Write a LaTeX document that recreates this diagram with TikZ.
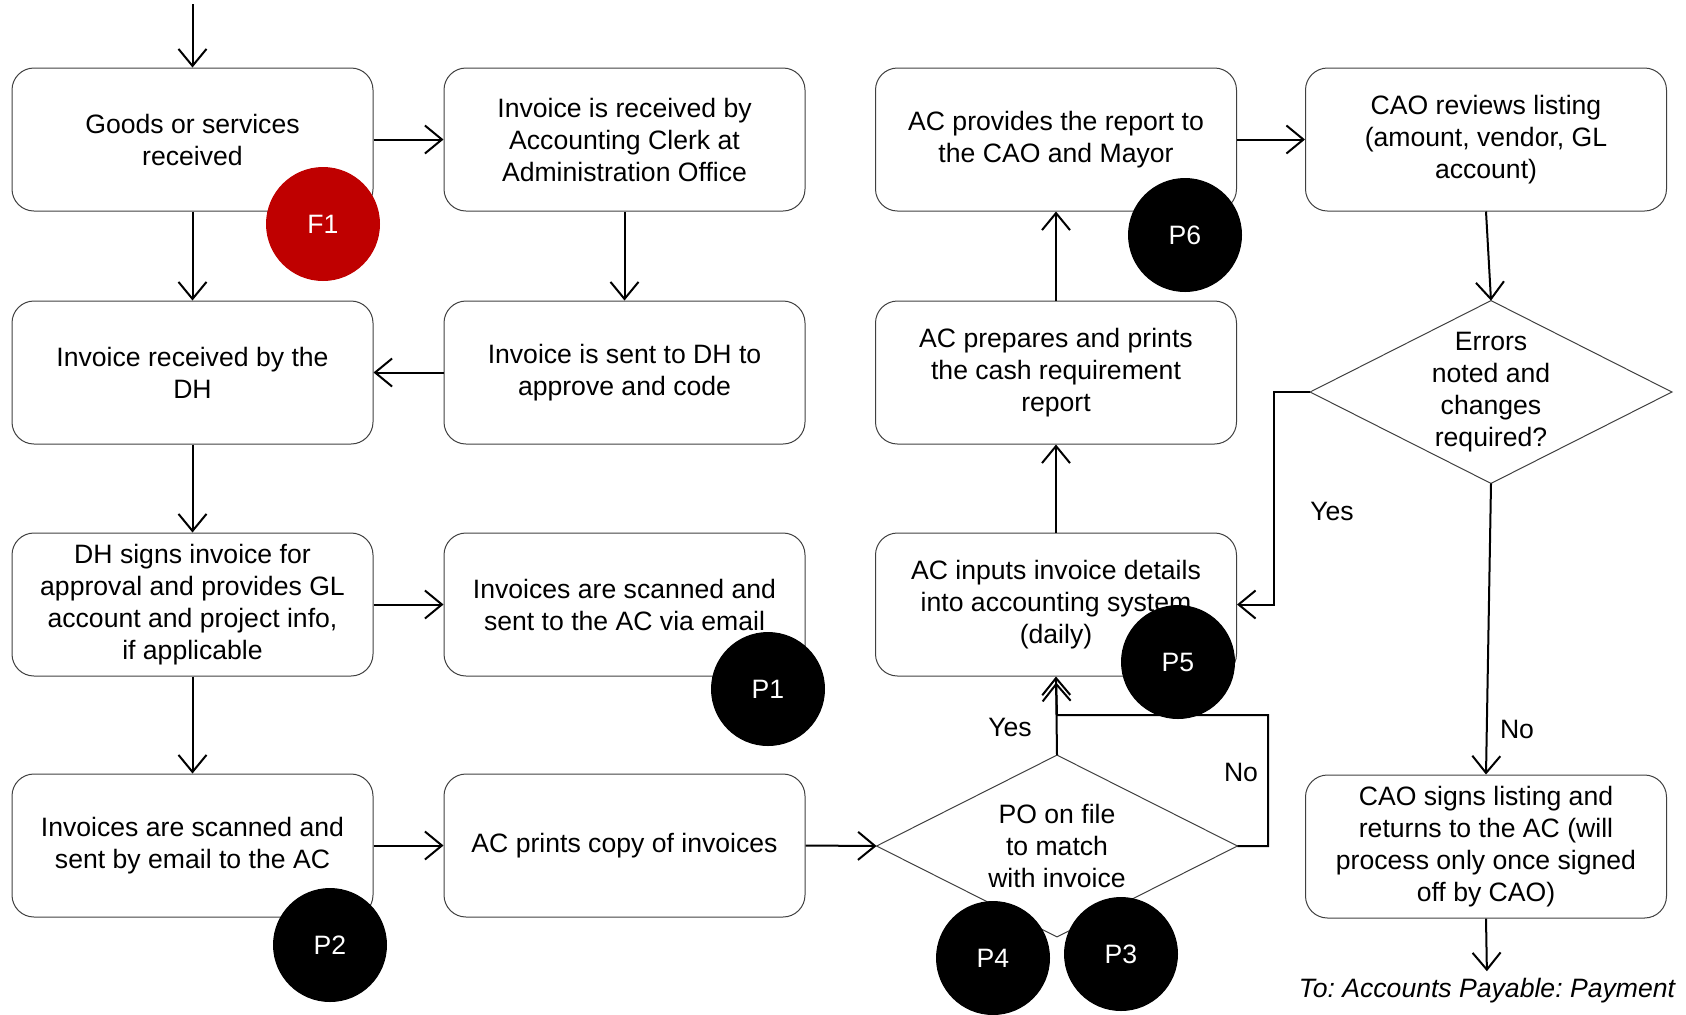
\documentclass[tikz,border=0pt]{standalone}
\usepackage{fontspec}
\setmainfont{Liberation Sans}
\usetikzlibrary{arrows.meta}
\frenchspacing
\begin{document}
\begin{tikzpicture}[x=0.5pt,y=-0.5pt,
  every node/.style={font=\fontsize{13.3}{16}\selectfont, align=center, inner sep=0pt},
  stepbox/.style={draw=black!75, line width=0.5pt, rounded corners=11pt,
    minimum width=180.5pt, minimum height=71.5pt},
  flow/.style={line width=1pt, -{Straight Barb[length=8.5pt,width=14pt]}},
  decision/.style={draw=none, minimum width=180pt, minimum height=90.5pt},
  rhombus/.style={draw=black!75, line width=0.5pt},
  badge/.style={circle, fill=black, text=white, minimum size=57pt},
  fbadge/.style={badge, fill=red!75!black}]

\useasboundingbox (0,0) rectangle (1686,1014);

% process steps
\node[stepbox] (goods)   at (192.5,139.5) {Goods or services\\received};
\node[stepbox] (recv)    at (624.5,139.5) {Invoice is received by\\Accounting Clerk at\\Administration Office};
\node[stepbox] (dhrecv)  at (192.5,372.5) {Invoice received by the\\DH};
\node[stepbox] (sentdh)  at (624.5,372.5) {Invoice is sent to DH to\\approve and code};
\node[stepbox] (dhsign)  at (192.5,604.5) {DH signs invoice for\\approval and provides GL\\account and project info,\\if applicable};
\node[stepbox] (scanac)  at (624.5,604.5) {Invoices are scanned and\\sent to the AC via email};
\node[stepbox] (scanem)  at (192.5,845.5) {Invoices are scanned and\\sent by email to the AC};
\node[stepbox] (prints)  at (624.5,845.5) {AC prints copy of invoices};
\node[stepbox] (inputs)  at (1056,604.5) {AC inputs invoice details\\into accounting system\\(daily)};
\node[stepbox] (prepare) at (1056,372.5) {AC prepares and prints\\the cash requirement\\report};
\node[stepbox] (provide) at (1056,139.5) {AC provides the report to\\the CAO and Mayor};
\node[stepbox] (review)  at (1486,139.5) {CAO reviews listing\\(amount, vendor, GL\\account)};
\node[stepbox] (caosign) at (1486,846.5) {CAO signs listing and\\returns to the AC (will\\process only once signed\\off by CAO)};

% decisions
\node[decision] (po) at (1057,846) {PO on file\\to match\\with invoice};
\draw[rhombus] (po.west) -- (po.north) -- (po.east) -- (po.south) -- cycle;
\node[decision, minimum width=180.5pt, minimum height=91pt] (err) at (1491,392) {Errors\\noted and\\changes\\required?};
\draw[rhombus] (err.west) -- (err.north) -- (err.east) -- (err.south) -- cycle;

% final destination
\node[font=\fontsize{13.3}{16}\selectfont\itshape] (pay) at (1487,991) {To: Accounts Payable: Payment};

% connectors
\coordinate (start) at (192.5,4);
\draw[flow] (start) -- (goods.north);
\draw[flow] (goods.south) -- (dhrecv.north);
\draw[flow] (goods.east) -- (recv.west);
\draw[flow] (recv.south) -- (sentdh.north);
\draw[flow] (sentdh.west) -- (dhrecv.east);
\draw[flow] (dhrecv.south) -- (dhsign.north);
\draw[flow] (dhsign.east) -- (scanac.west);
\draw[flow] (dhsign.south) -- (scanem.north);
\draw[flow] (scanem.east) -- (prints.west);
\draw[flow] (prints.east) -- (po.west);
\draw[flow] (po.north) -- (inputs.south);
\coordinate (loopr) at (1268,846);
\coordinate (loopt) at (1268,715);
\coordinate (loopl) at (1057,715);
\draw[flow, shorten >=3pt] (po.east) -- (loopr) -- (loopt) -- (loopl) -- (inputs.south);
\draw[flow] (inputs.north) -- (prepare.south);
\draw[flow] (prepare.north) -- (provide.south);
\draw[flow] (provide.east) -- (review.west);
\draw[flow] (review.south) -- (err.north);
\coordinate (yesl) at (1274,392);
\draw[flow] (err.west) -- (yesl) |- (inputs.east);
\draw[flow] (err.south) -- (caosign.north);
\draw[flow, shorten >=3.5pt] (caosign.south) -- (pay.north);

% branch labels
\node (yes1) at (1010,727) {Yes};
\node (no1)  at (1241,772) {No};
\node (yes2) at (1332,511) {Yes};
\node (no2)  at (1517,729) {No};

% control markers
\node[fbadge] (f1) at (323,224) {F1};
\node[badge] (p1) at (768,689) {P1};
\node[badge] (p2) at (330,945) {P2};
\node[badge] (p3) at (1121,954) {P3};
\node[badge] (p4) at (993,958) {P4};
\node[badge] (p5) at (1178,662) {P5};
\node[badge] (p6) at (1185,235) {P6};
\end{tikzpicture}
\end{document}
